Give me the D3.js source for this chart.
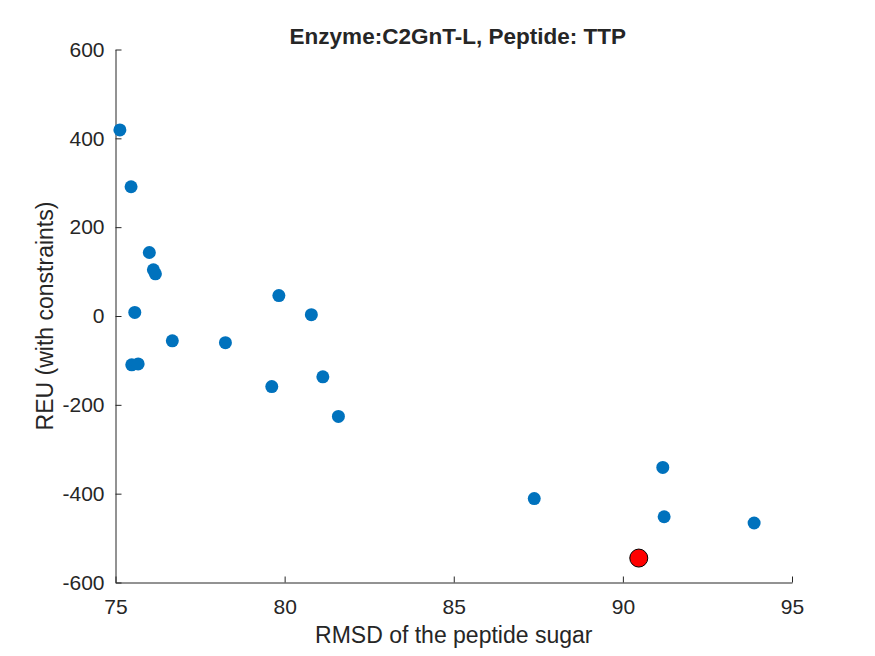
<!DOCTYPE html>
<html>
<head>
<meta charset="utf-8">
<script src="https://cdn.jsdelivr.net/npm/d3@7"></script>
<style>
  body { margin: 0; background: #fff; }
  svg text { font-family: "Liberation Sans", Arial, sans-serif; fill: #262626; }
</style>
</head>
<body>
<svg id="chart" width="875" height="656"></svg>
<script>
// data
var rmsd = [75.13, 75.46, 76.0, 76.12, 76.18, 75.57, 76.68, 78.25, 79.83, 80.79,
            75.48, 75.67, 79.62, 81.13, 81.59, 87.38, 91.18, 91.22, 93.88];
var reu  = [419, 291, 143, 104, 95, 8, -56, -60, 46, 3,
            -110, -108, -159, -137, -226, -411, -341, -452, -466];
var best = [90.47, -545];
var xTicks = [75, 80, 85, 90, 95];
var yTicks = [-600, -400, -200, 0, 200, 400, 600];

var svg = d3.select("#chart"),
    margin = {top: 49.5, right: 83, bottom: 73.5, left: 115.5},
    width = 875 - margin.left - margin.right,
    height = 656 - margin.top - margin.bottom;

var x = d3.scaleLinear().domain([75, 95]).range([0, width]),
    y = d3.scaleLinear().domain([-600, 600]).range([height, 0]);

var g = svg.append("g")
    .attr("transform", "translate(" + margin.left + "," + margin.top + ")");

var fmt = function(d) { return String(d); };  // plain hyphen minus like matlab

// axes, ticks pointing inward
var xAxis = g.append("g")
    .attr("transform", "translate(0," + height + ")")
    .call(d3.axisBottom(x).tickValues(xTicks).tickFormat(fmt)
      .tickSizeInner(-6).tickSizeOuter(0).tickPadding(17));
var yAxis = g.append("g")
    .call(d3.axisLeft(y).tickValues(yTicks).tickFormat(fmt)
      .tickSizeInner(-6).tickSizeOuter(0).tickPadding(11));

[xAxis, yAxis].forEach(function(a) {
  a.select(".domain").attr("stroke", "#262626");
  a.selectAll(".tick line").attr("stroke", "#262626");
  a.selectAll("text").style("font-size", "21px").attr("fill", "#262626");
});

g.selectAll(".dot")
  .data(rmsd)
  .enter().append("circle")
    .attr("class", "dot")
    .attr("cx", function(d) { return x(d); })
    .attr("cy", function(d, i) { return y(reu[i]); })
    .attr("r", 6.5)
    .attr("fill", "#0072BD");

g.append("circle")
    .attr("cx", x(best[0]))
    .attr("cy", y(best[1]))
    .attr("r", 9)
    .attr("fill", "#FF0000")
    .attr("stroke", "#000")
    .attr("stroke-width", 1);

g.append("text")
    .attr("x", width / 2 + 4)
    .attr("y", -6)
    .attr("text-anchor", "middle")
    .style("font-size", "22.5px")
    .style("font-weight", "bold")
    .attr("fill", "#000")
    .text("Enzyme:C2GnT-L, Peptide: TTP");

g.append("text")
    .attr("x", width / 2)
    .attr("y", height + 60.5)
    .attr("text-anchor", "middle")
    .style("font-size", "23px")
    .text("RMSD of the peptide sugar");

g.append("text")
    .attr("transform", "rotate(-90)")
    .attr("x", -height / 2)
    .attr("y", -62.5)
    .attr("text-anchor", "middle")
    .style("font-size", "23px")
    .text("REU (with constraints)");
</script>
</body>
</html>
